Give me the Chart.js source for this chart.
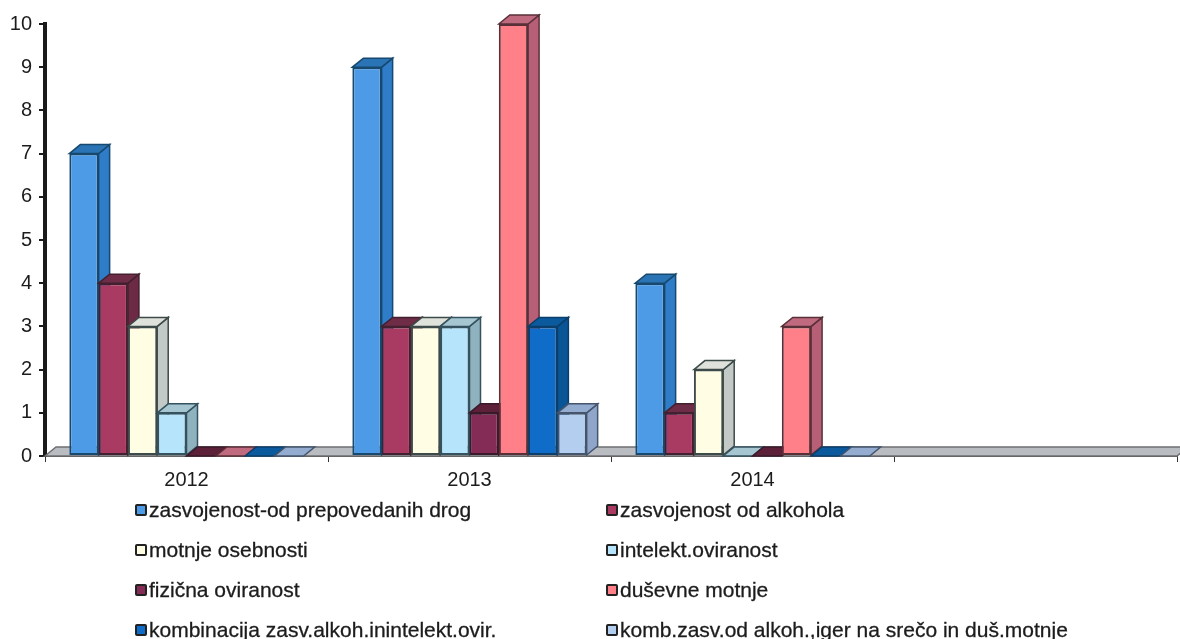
<!DOCTYPE html>
<html lang="sl">

<head>
    <meta charset="UTF-8">
    <title>Zasvojenosti in motnje</title>
    <script src="https://cdn.jsdelivr.net/npm/chart.js"></script>
    <style>
        body {
            margin: 0;
            background: #fff;
        }

        #wrap {
            position: relative;
            width: 1180px;
            height: 639px;
            overflow: hidden;
        }

        #chartBox {
            position: absolute;
            left: 0;
            top: 0;
            width: 1180px;
            height: 495px;
        }

        #legend {
            position: absolute;
            left: 135px;
            top: 490px;
            display: grid;
            grid-template-columns: 471px 471px;
            grid-auto-rows: 40px;
            font: 21px "Liberation Sans", Arial, sans-serif;
            -webkit-text-stroke: 0.3px #1c1c1c;
            color: #1c1c1c;
            white-space: nowrap;
        }

        #legend div {
            display: flex;
            align-items: center;
        }

        #legend i {
            box-sizing: border-box;
            width: 12px;
            height: 12px;
            border: 2px solid #222;
            border-radius: 2px;
            margin-right: 2px;
        }
    </style>
</head>

<body>
    <div id="wrap">
        <div id="chartBox"><canvas id="chart"></canvas></div>
        <div id="legend"></div>
    </div>
    <script>
        const categories = ['2012', '2013', '2014', ''];
        const seriesNames = [
            'zasvojenost-od prepovedanih drog',
            'zasvojenost od alkohola',
            'motnje osebnosti',
            'intelekt.oviranost',
            'fizična oviranost',
            'duševne motnje',
            'kombinacija zasv.alkoh.inintelekt.ovir.',
            'komb.zasv.od alkoh.,iger na srečo in duš.motnje'
        ];
        const drugs = [7, 9, 4, null];
        const alcohol = [4, 3, 1, null];
        const personality = [3, 3, 2, null];
        const intellect = [1, 3, 0, null];
        const physical = [0, 1, 0, null];
        const mental = [0, 10, 3, null];
        const comboIntellect = [0, 3, 0, null];
        const comboGambling = [0, 1, 0, null];
        const seriesValues = [drugs, alcohol, personality, intellect, physical, mental, comboIntellect, comboGambling];

        const frontColors = ['#4d9ae6', '#a93b63', '#fffde3', '#b6e4fb', '#842c55', '#ff8089', '#0f6cc9', '#b4ceef'];
        const sideColors = ['#2f7cc8', '#6d2a45', '#c3c9c6', '#8fb2bf', '#5c2038', '#b85f78', '#0a5596', '#8fa5c9'];
        const topColors = ['#2a73b5', '#6e2c47', '#dfe2da', '#a6c6d2', '#5d2039', '#c06a80', '#0b5a9e', '#94accf'];
        const edgeColors = ['#17496f', '#43202f', '#3c4a48', '#35525f', '#3a1a2a', '#5a3038', '#0b3f6a', '#44556c'];

        const depthX = 11;
        const depthY = 9;

        function face(ctx, points, fill, edge) {
            ctx.beginPath();
            points.forEach((p, i) => i ? ctx.lineTo(p[0], p[1]) : ctx.moveTo(p[0], p[1]));
            ctx.closePath();
            ctx.fillStyle = fill;
            ctx.fill();
            ctx.strokeStyle = edge;
            ctx.lineWidth = 1.5;
            ctx.stroke();
        }

        // chart.js draws the first dataset on top, here the later bars must cover the earlier ones
        const bars3d = {
            id: 'bars3d',
            beforeDatasetsDraw(chart) {
                const { ctx, chartArea: a } = chart;
                // grey floor under the bars
                face(ctx, [[a.left, a.bottom], [a.left + depthX, a.bottom - depthY], [a.right + depthX, a.bottom - depthY], [a.right, a.bottom]], '#b9bdc2', '#6d6f72');

                chart.getSortedVisibleDatasetMetas().forEach(meta => {
                    const i = meta.index;
                    meta.data.forEach((bar, k) => {
                        if (seriesValues[i][k] === null) return;
                        const left = bar.x - bar.width / 2;
                        const right = bar.x + bar.width / 2;
                        if (bar.base > bar.y) {
                            face(ctx, [[right, bar.y], [right + depthX, bar.y - depthY], [right + depthX, bar.base - depthY], [right, bar.base]], sideColors[i], edgeColors[i]);
                        }
                        face(ctx, [[left, bar.y], [left + depthX, bar.y - depthY], [right + depthX, bar.y - depthY], [right, bar.y]], topColors[i], edgeColors[i]);
                        bar.draw(ctx);
                    });
                });
                return false;
            }
        };

        new Chart(document.getElementById('chart'), {
            type: 'bar',
            data: {
                labels: categories,
                datasets: seriesNames.map((name, i) => ({
                    label: name,
                    data: seriesValues[i],
                    backgroundColor: frontColors[i],
                    borderColor: edgeColors[i],
                    borderWidth: seriesValues[i].map(v => v ? 2 : 0),
                    borderSkipped: false,
                    barPercentage: 1,
                    categoryPercentage: 0.828
                }))
            },
            plugins: [bars3d],
            options: {
                responsive: true,
                maintainAspectRatio: false,
                animation: false,
                layout: { padding: { top: 24, right: 3 } },
                plugins: {
                    legend: { display: false },
                    tooltip: { enabled: false }
                },
                scales: {
                    x: {
                        afterFit: s => { s.height = 39; },
                        border: { color: '#4c4c4c', width: 2 },
                        grid: { drawOnChartArea: false, drawTicks: true, tickLength: 6, color: '#333', offset: true },
                        ticks: {
                            color: '#1c1c1c',
                            padding: 6,
                            maxRotation: 0,
                            font: { family: '"Liberation Sans"', size: 20 }
                        }
                    },
                    y: {
                        min: 0,
                        max: 10,
                        afterFit: s => { s.width = 45; },
                        border: { color: '#1a1a1a', width: 4 },
                        grid: { drawOnChartArea: false, drawTicks: true, tickLength: 6, color: '#1a1a1a', lineWidth: 2 },
                        ticks: {
                            stepSize: 1,
                            color: '#1c1c1c',
                            padding: 7,
                            font: { family: '"Liberation Sans"', size: 20 }
                        }
                    }
                }
            }
        });

        const legend = document.getElementById('legend');
        seriesNames.forEach((name, i) => {
            const row = document.createElement('div');
            const box = document.createElement('i');
            box.style.background = frontColors[i];
            row.appendChild(box);
            row.appendChild(document.createTextNode(name));
            legend.appendChild(row);
        });
    </script>
</body>

</html>
